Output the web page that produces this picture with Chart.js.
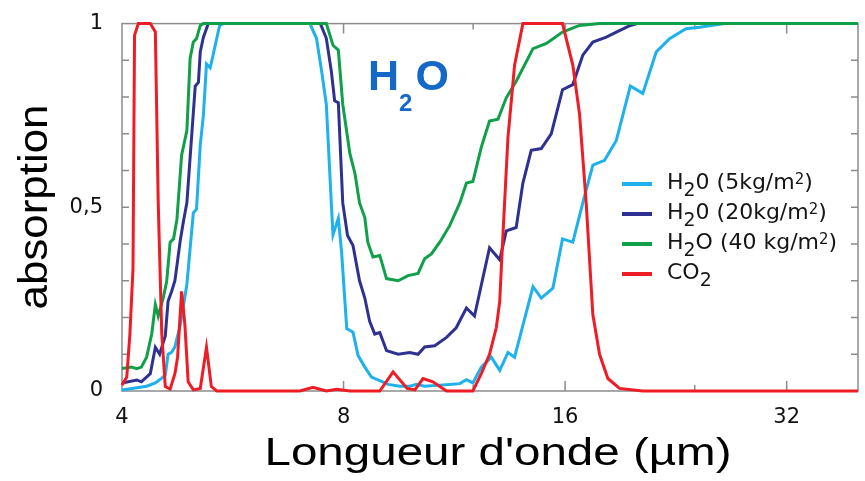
<!DOCTYPE html>
<html>
<head>
<meta charset="utf-8">
<script src="https://cdn.jsdelivr.net/npm/chart.js@4.4.1/dist/chart.umd.min.js"></script>
<style>
    body { margin: 0; background: #fff; }
    #wrap { width: 865px; height: 481px; }
</style>
</head>
<body>
<div id="wrap"><canvas id="myChart" width="865" height="481"></canvas></div>
<script>
// wavelength in µm, absorption 0..1
const wl5 = [4.00, 4.32, 4.44, 4.53, 4.58, 4.62, 4.67, 4.72, 4.80, 4.90, 5.00, 5.05, 5.11, 5.16, 5.21, 5.27, 5.32, 5.38, 5.43, 5.49, 7.20, 7.35, 7.47, 7.58, 7.70, 7.74, 7.87, 7.95, 8.08, 8.24, 8.37, 8.55, 8.73, 8.91, 9.20, 9.54, 9.84, 10.05, 10.31, 10.81, 11.15, 11.51, 11.75, 11.99, 12.31, 12.70, 13.04, 13.38, 13.66, 14.47, 14.85, 15.40, 15.87, 16.39, 16.91, 17.45, 18.10, 18.78, 19.62, 20.40, 21.28, 22.18, 23.35, 24.36, 25.66, 26.4, 40];
const abs5 = [0.003, 0.013, 0.022, 0.035, 0.043, 0.10, 0.105, 0.12, 0.18, 0.29, 0.485, 0.495, 0.67, 0.75, 0.89, 0.88, 0.915, 0.96, 0.995, 1, 1, 0.96, 0.87, 0.78, 0.51, 0.425, 0.47, 0.38, 0.17, 0.16, 0.097, 0.065, 0.038, 0.03, 0.018, 0.013, 0.013, 0.018, 0.013, 0.016, 0.018, 0.02, 0.031, 0.022, 0.065, 0.092, 0.056, 0.105, 0.092, 0.284, 0.253, 0.28, 0.414, 0.405, 0.512, 0.615, 0.628, 0.682, 0.83, 0.81, 0.923, 0.959, 0.986, 0.99, 0.997, 1, 1];

const wl20 = [4.00, 4.19, 4.25, 4.37, 4.44, 4.50, 4.58, 4.62, 4.67, 4.72, 4.80, 4.85, 4.90, 5.03, 5.08, 5.11, 5.16, 5.24, 7.44, 7.58, 7.70, 7.78, 7.87, 7.98, 8.10, 8.24, 8.41, 8.55, 8.68, 8.82, 8.96, 9.15, 9.49, 9.84, 10.10, 10.31, 10.64, 11.04, 11.38, 11.75, 12.05, 12.63, 13.04, 13.31, 13.73, 14.02, 14.39, 14.85, 15.32, 15.87, 16.39, 16.91, 17.45, 18.20, 18.78, 19.62, 20.05, 40];
const abs20 = [0.022, 0.03, 0.025, 0.047, 0.119, 0.10, 0.15, 0.244, 0.27, 0.30, 0.41, 0.464, 0.512, 0.83, 0.84, 0.923, 0.963, 1, 1, 0.96, 0.87, 0.79, 0.785, 0.512, 0.423, 0.396, 0.30, 0.253, 0.19, 0.155, 0.159, 0.11, 0.10, 0.105, 0.10, 0.12, 0.123, 0.146, 0.172, 0.226, 0.204, 0.39, 0.357, 0.436, 0.445, 0.566, 0.655, 0.66, 0.70, 0.82, 0.834, 0.914, 0.95, 0.963, 0.977, 0.995, 1, 1];

const wl40 = [4.00, 4.12, 4.19, 4.25, 4.32, 4.39, 4.44, 4.48, 4.55, 4.60, 4.65, 4.70, 4.75, 4.82, 4.90, 4.95, 5.00, 5.05, 5.11, 5.16, 7.58, 7.74, 7.87, 7.98, 8.16, 8.29, 8.41, 8.55, 8.63, 8.77, 8.96, 9.15, 9.49, 9.79, 10.10, 10.31, 10.53, 10.81, 11.15, 11.51, 11.75, 11.99, 12.31, 12.63, 12.97, 13.31, 13.73, 14.47, 15.09, 15.87, 16.74, 17.82, 40];
const abs40 = [0.061, 0.065, 0.061, 0.065, 0.092, 0.155, 0.235, 0.204, 0.253, 0.298, 0.405, 0.414, 0.467, 0.642, 0.709, 0.905, 0.95, 0.959, 0.995, 1, 1, 0.941, 0.928, 0.78, 0.646, 0.592, 0.512, 0.472, 0.405, 0.365, 0.369, 0.306, 0.30, 0.314, 0.32, 0.36, 0.373, 0.405, 0.45, 0.512, 0.566, 0.57, 0.664, 0.735, 0.74, 0.798, 0.843, 0.932, 0.946, 0.977, 0.995, 1, 1];

const wlCO2 = [4.00, 4.06, 4.10, 4.14, 4.16, 4.21, 4.37, 4.44, 4.48, 4.53, 4.58, 4.65, 4.72, 4.76, 4.82, 4.87, 4.92, 5.00, 5.11, 5.21, 5.29, 5.38, 6.98, 7.27, 7.58, 7.83, 8.16, 8.96, 9.34, 9.76, 10.00, 10.26, 10.58, 11.04, 11.99, 12.31, 12.63, 12.90, 13.04, 13.17, 13.38, 13.66, 14.02, 15.87, 16.39, 16.74, 17.09, 17.45, 17.82, 18.29, 18.97, 20.40, 40];
const absCO2 = [0.016, 0.038, 0.155, 0.333, 0.968, 1, 1, 0.977, 0.512, 0.155, 0.012, 0.005, 0.047, 0.092, 0.271, 0.18, 0.025, 0.003, 0.007, 0.119, 0.012, 0, 0, 0.01, 0, 0.005, 0, 0, 0.052, 0.007, 0.003, 0.034, 0.025, 0, 0, 0.047, 0.10, 0.172, 0.244, 0.423, 0.69, 0.887, 1, 1, 0.887, 0.753, 0.512, 0.208, 0.10, 0.034, 0.007, 0, 0];

// "_x" = subscript, "^x" = superscript
const seriesLabels = ['H_20 (5kg/m^2)', 'H_20 (20kg/m^2)', 'H_2O (40 kg/m^2)', 'CO_2'];
const seriesColors = ['#1eb1ec', '#2e3192', '#10a049', '#ee1c25'];

const xTicks = [4, 8, 16, 32];
const xMarks = [8, 12, 16, 24, 32];
const yTicks = [0, 0.5, 1];
const yMarks = [0.1, 0.2, 0.3, 0.4, 0.5, 0.6, 0.7, 0.8, 0.9];

function zip(xs, ys) {
    var out = [];
    for (var i = 0; i < Math.min(xs.length, ys.length); i++) out.push({ x: xs[i], y: ys[i] });
    return out;
}

var allData = [zip(wl5, abs5), zip(wl20, abs20), zip(wl40, abs40), zip(wlCO2, absCO2)];

var framePlugin = {
    id: 'frame',
    beforeDatasetsDraw: function (chart) {
        var ctx = chart.ctx, a = chart.chartArea;
        var xs = chart.scales.x, ys = chart.scales.y;
        ctx.save();
        ctx.strokeStyle = '#8c8c8c';
        ctx.lineWidth = 1.5;
        ctx.strokeRect(a.left, a.top, a.right - a.left, a.bottom - a.top);
        ctx.beginPath();
        xMarks.forEach(function (v) {
            var px = xs.getPixelForValue(v);
            var len = xTicks.indexOf(v) >= 0 ? 10 : 6;
            ctx.moveTo(px, a.bottom); ctx.lineTo(px, a.bottom - len);
            ctx.moveTo(px, a.top); ctx.lineTo(px, a.top + len);
        });
        yMarks.forEach(function (v) {
            var py = ys.getPixelForValue(v);
            ctx.moveTo(a.left, py); ctx.lineTo(a.left + 7, py);
            ctx.moveTo(a.right, py); ctx.lineTo(a.right - 7, py);
        });
        ctx.stroke();
        ctx.restore();
    }
};

function drawRich(ctx, str, x, y, size, family) {
    var i = 0;
    while (i < str.length) {
        var c = str[i], dy = 0, fs = size;
        if ((c === '_' || c === '^') && i + 1 < str.length) {
            fs = c === '_' ? size * 0.86 : size * 0.68;
            dy = c === '_' ? size * 0.33 : -size * 0.25;
            c = str[i + 1];
            i += 2;
        } else {
            i++;
        }
        ctx.font = fs + 'px ' + family;
        ctx.fillText(c, x, y + dy);
        x += ctx.measureText(c).width;
    }
}

function stretchText(ctx, txt, x, y, targetW, rot) {
    var w = ctx.measureText(txt).width;
    ctx.save();
    ctx.translate(x, y);
    if (rot) ctx.rotate(rot);
    ctx.scale(targetW / w, 1);
    ctx.fillText(txt, 0, 0);
    ctx.restore();
}

var textPlugin = {
    id: 'texts',
    afterDraw: function (chart) {
        var ctx = chart.ctx;
        ctx.save();
        ctx.fillStyle = '#000';
        ctx.textAlign = 'center';
        ctx.textBaseline = 'alphabetic';
        ctx.font = '38px "Liberation Sans"';
        stretchText(ctx, "Longueur d'onde (µm)", 498, 465, 467, 0);
        ctx.font = '40px "Liberation Sans"';
        stretchText(ctx, 'absorption', 47, 207, 205, -Math.PI / 2);

        // H2O label
        ctx.textAlign = 'left';
        ctx.fillStyle = '#1469c8';
        ctx.font = 'bold 43px "Liberation Sans"';
        var x = 368;
        ctx.fillText('H', x, 90);
        x += ctx.measureText('H').width;
        ctx.font = 'bold 24px "Liberation Sans"';
        ctx.fillText('2', x, 111);
        x += ctx.measureText('2').width + 3;
        ctx.font = 'bold 43px "Liberation Sans"';
        ctx.fillText('O', x, 90);

        // legend
        var rows = [184, 214, 244, 274];
        chart.data.datasets.forEach(function (ds, i) {
            ctx.strokeStyle = ds.borderColor;
            ctx.lineWidth = 4;
            ctx.beginPath();
            ctx.moveTo(622, rows[i]);
            ctx.lineTo(652, rows[i]);
            ctx.stroke();
            ctx.fillStyle = '#151515';
            drawRich(ctx, ds.label, 667, rows[i] + 5, 22, '"DejaVu Sans"');
        });
        ctx.restore();
    }
};

var ctx = document.getElementById('myChart').getContext('2d');
var myChart = new Chart(ctx, {
    type: 'line',
    data: {
        datasets: seriesLabels.map(function (lbl, i) {
            return {
                label: lbl,
                data: allData[i],
                borderColor: seriesColors[i],
                backgroundColor: seriesColors[i],
                borderWidth: 3,
                pointRadius: 0,
                tension: 0,
                fill: false,
                clip: false,
                order: 3 - i
            };
        })
    },
    options: {
        responsive: false,
        animation: false,
        devicePixelRatio: 1,
        layout: { padding: { top: 18, right: 7, left: 0, bottom: 0 } },
        plugins: { legend: { display: false }, tooltip: { enabled: false } },
        scales: {
            x: {
                type: 'logarithmic',
                min: 4,
                max: 40,
                grid: { display: false },
                border: { display: false },
                afterBuildTicks: function (s) { s.ticks = xTicks.map(function (v) { return { value: v }; }); },
                afterFit: function (s) { s.height = 90; },
                ticks: {
                    autoSkip: false,
                    maxRotation: 0,
                    padding: 6,
                    color: '#111',
                    font: { family: 'DejaVu Sans', size: 21 },
                    callback: function (v) { return String(v); }
                }
            },
            y: {
                min: 0,
                max: 1,
                grid: { display: false },
                border: { display: false },
                afterBuildTicks: function (s) { s.ticks = yTicks.map(function (v) { return { value: v }; }); },
                afterFit: function (s) { s.width = 122; },
                ticks: {
                    padding: 11,
                    color: '#111',
                    font: { family: 'DejaVu Sans', size: 21 },
                    callback: function (v) { return String(v).replace('.', ','); }
                }
            }
        }
    },
    plugins: [framePlugin, textPlugin]
});
</script>
</body>
</html>
